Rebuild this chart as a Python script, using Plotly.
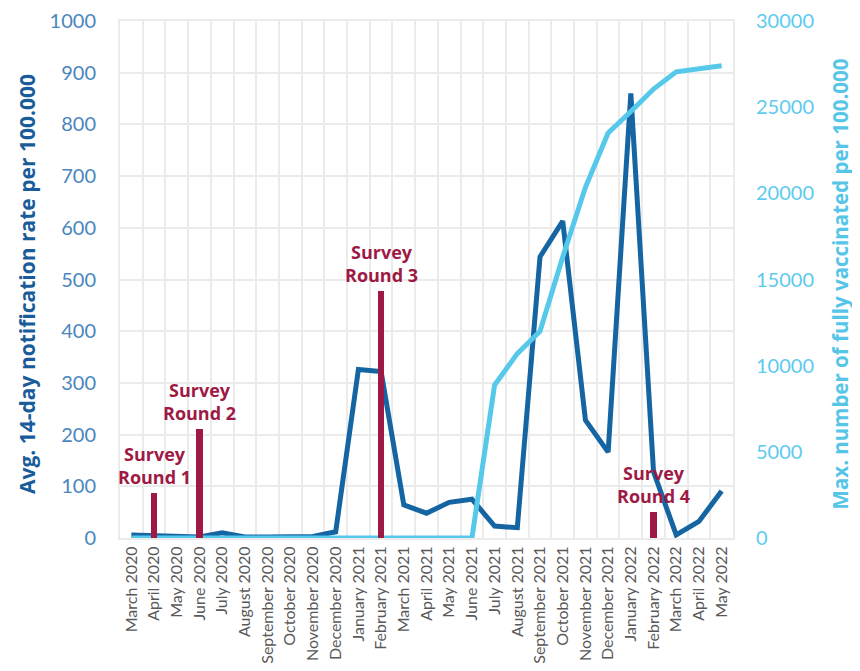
import plotly.graph_objects as go

months = ["March 2020", "April 2020", "May 2020", "June 2020", "July 2020", "August 2020",
          "September 2020", "October 2020", "November 2020", "December 2020",
          "January 2021", "February 2021", "March 2021", "April 2021", "May 2021", "June 2021",
          "July 2021", "August 2021", "September 2021", "October 2021", "November 2021",
          "December 2021", "January 2022", "February 2022", "March 2022", "April 2022", "May 2022"]

notification_rate = [6, 4, 2, 2, 10, 2, 2, 3, 3, 12,
                     326, 322, 64, 48, 69, 75, 23, 20, 544, 613, 228, 166,
                     860, 128, 6, 32, 91]

fully_vaccinated = [0, 0, 0, 0, 0, 0, 0, 0, 0, 0,
                    0, 0, 0, 0, 0, 0, 8880, 10700, 12000, 16300, 20350, 23500,
                    24750, 26050, 27050, 27250, 27400]

survey_months = ["April 2020", "June 2020", "February 2021", "February 2022"]
survey_heights = [87, 211, 478, 51]
survey_labels = ["Survey<br>Round 1", "Survey<br>Round 2", "Survey<br>Round 3", "Survey<br>Round 4"]

DARK = "#1565A3"
LIGHT = "#56C9EB"
CRIMSON = "#9E1A45"
GRID = "#EBEBEB"
FONT = "Lato"
BOLD = "Open Sans"

fig = go.Figure()
fig.add_trace(go.Scatter(x=months, y=notification_rate, mode="lines",
                         line=dict(color=DARK, width=5), yaxis="y", showlegend=False))
fig.add_trace(go.Scatter(x=months, y=fully_vaccinated, mode="lines",
                         line=dict(color=LIGHT, width=5), yaxis="y2", showlegend=False))
fig.add_trace(go.Bar(x=survey_months, y=survey_heights, width=0.27,
                     marker=dict(color=CRIMSON, line=dict(width=0)), yaxis="y3", showlegend=False))

for m, h, t in zip(survey_months, survey_heights, survey_labels):
    fig.add_annotation(x=m, y=h, xref="x", yref="y", text=f"<b>{t}</b>", showarrow=False,
                       yanchor="bottom", yshift=2, font=dict(family=BOLD, size=18, color=CRIMSON))

fig.add_annotation(xref="paper", yref="paper", x=-0.152, y=0.491, textangle=-90,
                   xanchor="center", yanchor="middle",
                   text="<b>Avg. 14-day notification rate per 100.000</b>", showarrow=False,
                   font=dict(family=BOLD, size=21, color="#1A5C99"))
fig.add_annotation(xref="paper", yref="paper", x=1.175, y=0.491, textangle=-90,
                   xanchor="center", yanchor="middle",
                   text="<b>Max. number of fully vaccinated per 100.000</b>", showarrow=False,
                   font=dict(family=BOLD, size=20.5, color="#55C5E8"))

fig.update_layout(
    width=860, height=671,
    margin=dict(l=112, r=135, t=13, b=141, autoexpand=False),
    paper_bgcolor="white", plot_bgcolor="white",
    bargap=0,
    xaxis=dict(type="category", tickson="boundaries", showgrid=True, gridcolor=GRID, gridwidth=2,
               tickangle=-90, ticks="outside", ticklen=11, tickcolor="rgba(0,0,0,0)",
               tickfont=dict(family=FONT, size=16, color="#595959"),
               showline=True, linecolor=GRID, linewidth=2, mirror=True,
               range=[-0.5, 26.5], automargin=False),
    yaxis=dict(range=[0, 1000], dtick=100, showgrid=True, gridcolor=GRID, gridwidth=2,
               zeroline=False, ticks="outside", ticklen=18, tickcolor="rgba(0,0,0,0)",
               tickfont=dict(family=FONT, size=20, color="#4A86BE"),
               showline=True, linecolor=GRID, linewidth=2, mirror=True, automargin=False),
    yaxis2=dict(range=[0, 30000], dtick=5000, overlaying="y", side="right", showgrid=False,
                zeroline=False, ticks="outside", ticklen=18, tickcolor="rgba(0,0,0,0)",
                tickformat="d",
                tickfont=dict(family=FONT, size=20, color="#5DCBEF"), showline=False,
                automargin=False),
    yaxis3=dict(range=[0, 1000], overlaying="y", visible=False),
)

fig.write_html("out.html")
